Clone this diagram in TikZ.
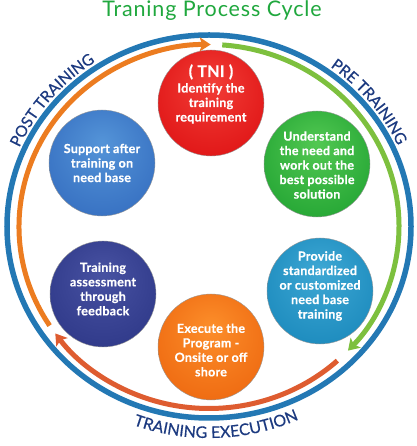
\documentclass[tikz,border=0pt]{standalone}
\usepackage{fontspec}
\setmainfont{Lato}
\newfontfamily\titlefont{Lato}[LetterSpace=4]
\newfontfamily\ballfont{Lato}[BoldFeatures={FakeBold=0.6}, LetterSpace=2]
\newfontfamily\lblfam{Lato}[FakeBold=0.5]
\usetikzlibrary{arrows.meta,decorations.text}
\definecolor{ringblue}{RGB}{35,120,180}
\definecolor{postorange}{RGB}{236,124,32}
\definecolor{exered}{RGB}{222,92,48}
\definecolor{pregreen}{RGB}{125,192,62}
\definecolor{titlegreen}{RGB}{32,168,62}
\definecolor{navylbl}{RGB}{28,58,128}
% ball colours: light, base, dark
\definecolor{redL}{RGB}{242,62,55}\definecolor{redB}{RGB}{226,26,26}\definecolor{redD}{RGB}{172,12,12}
\definecolor{grnL}{RGB}{82,200,82}\definecolor{grnB}{RGB}{42,170,56}\definecolor{grnD}{RGB}{22,120,40}
\definecolor{bluL}{RGB}{84,148,216}\definecolor{bluB}{RGB}{58,116,196}\definecolor{bluD}{RGB}{36,80,150}
\definecolor{navL}{RGB}{72,82,162}\definecolor{navB}{RGB}{50,60,140}\definecolor{navD}{RGB}{30,35,96}
\definecolor{teaL}{RGB}{62,168,212}\definecolor{teaB}{RGB}{32,142,192}\definecolor{teaD}{RGB}{20,96,142}
\definecolor{orgL}{RGB}{252,142,42}\definecolor{orgB}{RGB}{240,110,20}\definecolor{orgD}{RGB}{196,76,16}
\pgfdeclareradialshading{shRed}{\pgfpoint{0bp}{10bp}}{color(0bp)=(redL); color(28bp)=(redB); color(50bp)=(redD)}
\pgfdeclareradialshading{shGrn}{\pgfpoint{0bp}{10bp}}{color(0bp)=(grnL); color(28bp)=(grnB); color(50bp)=(grnD)}
\pgfdeclareradialshading{shBlu}{\pgfpoint{0bp}{10bp}}{color(0bp)=(bluL); color(28bp)=(bluB); color(50bp)=(bluD)}
\pgfdeclareradialshading{shNav}{\pgfpoint{0bp}{10bp}}{color(0bp)=(navL); color(28bp)=(navB); color(50bp)=(navD)}
\pgfdeclareradialshading{shTea}{\pgfpoint{0bp}{10bp}}{color(0bp)=(teaL); color(28bp)=(teaB); color(50bp)=(teaD)}
\pgfdeclareradialshading{shOrg}{\pgfpoint{0bp}{10bp}}{color(0bp)=(orgL); color(28bp)=(orgB); color(50bp)=(orgD)}
\newcommand\lblfont{\lblfam\fontsize{15.5}{18}\selectfont}
\newcommand\exefont{\lblfam\fontsize{16}{18}\selectfont}
\begin{document}
\begin{tikzpicture}[x=1pt,y=1pt,
  ballbase/.style={circle, minimum size=106pt, inner sep=0pt, shade, shading=#1, draw=black!40, line width=0.4pt},
  balltxt/.style={text=white, align=center, inner sep=0pt, font=\ballfont\bfseries\fontsize{12.5}{14.5}\selectfont},
  ringline/.style={draw=ringblue, line width=5.5pt},
  cyclearc/.style={line width=5pt, draw=#1},
  tipstyle/.style={-{Stealth[length=11pt,width=14pt,inset=2.5pt]}},
  titlestyle/.style={text=titlegreen, font=\titlefont\fontsize{21.5}{24}\selectfont, anchor=base}
]
\useasboundingbox (0,0) rectangle (416,446);
\fill[white] (0,0) rectangle (416,446);
\coordinate (c) at (209,219.5);

% title
\node[titlestyle] (title) at (212,429) {Traning Process Cycle};

% outer ring
\draw[ringline] (c) ellipse[x radius=202, y radius=191.5];

% cycle arcs
\draw[cyclearc=postorange, tipstyle] (c) ++(213:190 and 182) arc[start angle=213, end angle=89.5, x radius=190, y radius=182];
\draw[cyclearc=pregreen, tipstyle] (c) ++(86:190 and 182) arc[start angle=86, end angle=-43, x radius=190, y radius=182];
\draw[cyclearc=exered, tipstyle] (c) ++(-47.5:190 and 182) arc[start angle=-47.5, end angle=-144, x radius=190, y radius=182];

% curved labels
\path[decorate, decoration={text along path, text={|\lblfont|POST TRAINING}, text align=center, text color=navylbl}]
  (c) ++(166:207 and 197) arc[start angle=166, end angle=114, x radius=207, y radius=197];
\path[decorate, decoration={text along path, text={|\lblfont|PRE TRAINING}, text align=center, text color=navylbl}]
  (c) ++(65:207 and 197) arc[start angle=65, end angle=13, x radius=207, y radius=197];
\path[decorate, decoration={text along path, text={|\exefont|TRAINING EXECUTION}, text align=center, text color=navylbl}]
  (c) ++(234:219 and 211.5) arc[start angle=234, end angle=310, x radius=219, y radius=211.5];

% balls
\node[ballbase=shRed] (tni) at (211,343) {};
\node[ballbase=shGrn] (und) at (317,282) {};
\node[ballbase=shTea] (prov) at (320,155) {};
\node[ballbase=shOrg] (exe) at (211,99) {};
\node[ballbase=shNav] (ass) at (103,152) {};
\node[ballbase=shBlu] (sup) at (102,283) {};

% ball texts
\node[balltxt] (tnit) at (211,352) {{\fontsize{16}{19}\selectfont ( TNI )}\\[1pt]Identify the\\training\\requirement};
\node[balltxt] (undt) at (317,281) {Understand\\the need and\\work out the\\best possible\\solution};
\node[balltxt] (provt) at (320,160) {Provide\\standardized\\or customized\\need base\\training};
\node[balltxt] (exet) at (211,96) {Execute the\\Program -\\Onsite or off\\shore};
\node[balltxt] (asst) at (103,157) {Training\\assessment\\through\\feedback};
\node[balltxt] (supt) at (102,283) {Support after\\training on\\need base};
\end{tikzpicture}
\end{document}
